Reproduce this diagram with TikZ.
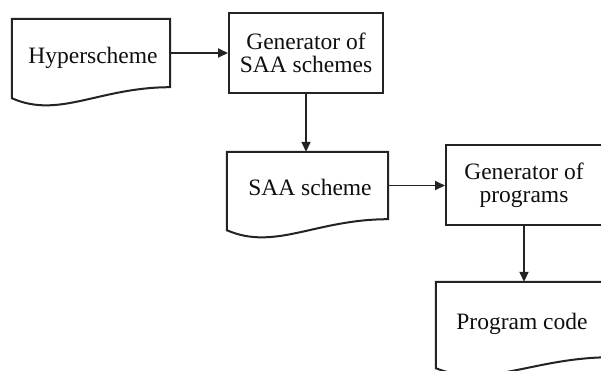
\documentclass[tikz,border=0pt]{standalone}
\usepackage{fontspec}
\setmainfont{Liberation Serif}
\usetikzlibrary{arrows.meta,calc}
\definecolor{linecol}{RGB}{35,35,35}
\definecolor{textcol}{RGB}{15,15,15}
\tikzset{
  every node/.style={text=textcol},
  txt/.style={font=\fontsize{23.5}{22}\selectfont, inner sep=0pt},
  procbox/.style={draw=linecol, line width=2pt, rectangle, inner sep=0pt,
    align=center, font=\fontsize{23.5}{23}\selectfont},
  docarea/.style={rectangle, inner sep=0pt},
  docline/.style={draw=linecol, line width=2pt, line join=miter},
  arr/.style={draw=linecol, line width=1.8pt, -{Triangle[length=10pt,width=9pt]}}
}
% document symbol: flat top, wavy bottom edge
\newcommand{\docoutline}[2]{%
  \draw[docline] (#1.north west) -- (#1.north east) -- (#1.south east)
    .. controls ($(#1.south east)+(-0.45*#2,0)$) and ($(#1.south west)+(0.3*#2,32)$)
    .. ($(#1.south west)+(0,11)$) -- cycle;}
\begin{document}
\begin{tikzpicture}[x=1pt,y=-1pt]
  \useasboundingbox[fill=white] (0,0) rectangle (601,370);
  \clip (0,0) rectangle (601,370);

  % document shapes (area above the wave)
  \node[docarea, minimum width=158pt, minimum height=68pt] (hyp) at (91,53) {};
  \node[docarea, minimum width=161pt, minimum height=67pt] (saa) at (307.5,185.5) {};
  \node[docarea, minimum width=176pt, minimum height=75pt] (pc) at (524,319.5) {};
  \docoutline{hyp}{158}
  \docoutline{saa}{161}
  \docoutline{pc}{176}

  % document labels
  \node[txt, anchor=base] (hyp-t) at (93,63) {Hyperscheme};
  \node[txt, anchor=base] (saa-t) at (310,195) {SAA scheme};
  \node[txt, anchor=base] (pc-t) at (522,329) {Program code};

  % process boxes
  \node[procbox, minimum width=154pt, minimum height=80pt] (gsaa) at (306,53)
    {Generator of\\SAA schemes};
  \node[procbox, minimum width=156pt, minimum height=80pt] (gprog) at (524,185)
    {Generator of\\programs};

  % flow
  \draw[arr] (hyp.east) -- (gsaa.west);
  \draw[arr] (gsaa.south) -- (gsaa.south |- saa.north);
  \draw[arr] (saa.east) -- (saa.east -| gprog.west);
  \draw[arr] (gprog.south) -- (gprog.south |- pc.north);
\end{tikzpicture}
\end{document}
